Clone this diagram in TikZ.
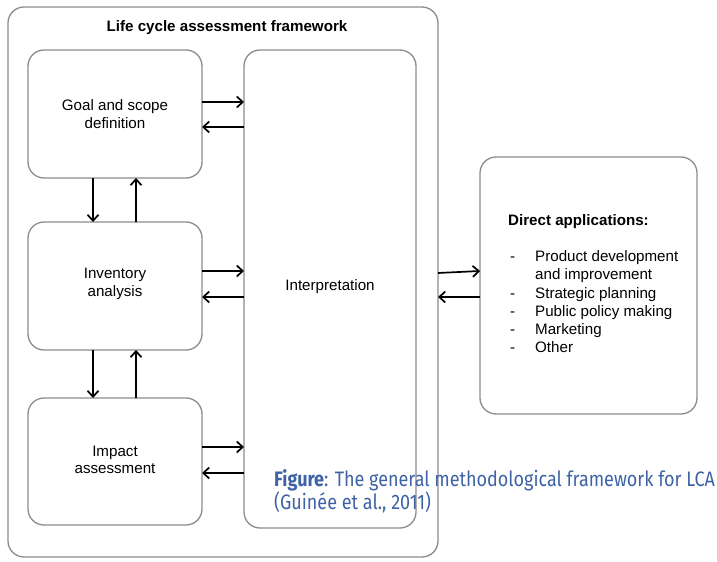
\documentclass[tikz,border=0pt]{standalone}
\usepackage{fontspec}
\setmainfont{Liberation Sans}
\newfontfamily\capfont{Fira Sans}[FakeStretch=0.86]
\usetikzlibrary{arrows.meta}
\definecolor{boxgray}{HTML}{8C8C8C}
\definecolor{capblue}{HTML}{3E62A6}
\tikzset{
  box/.style={draw=boxgray, line width=1.3bp, rounded corners=16bp},
  lbl/.style={font=\fontsize{15.2}{17.5}\selectfont, align=center, inner sep=0},
  arr/.style={line width=1.7bp, -{Straight Barb[length=6bp,width=11bp,line width=1.7bp]}},
}
\begin{document}
\begin{tikzpicture}[x=1bp,y=-1bp]
\useasboundingbox (0,0) rectangle (717,562);
\fill[white] (0,0) rectangle (717,562);
% outer frame
\draw[box] (8,7) rectangle (438,557);
\node[lbl, font=\bfseries\fontsize{15.2}{17.5}\selectfont] (title) at (227,28) {Life cycle assessment framework};
% boxes
\draw[box] (28,50) rectangle (202,178);
\node[lbl] (goal) at (115,114) {Goal and scope\\definition};
\draw[box] (28,222) rectangle (202,350);
\node[lbl] (inv) at (115,284) {Inventory\\analysis};
\draw[box] (28,398) rectangle (202,525);
\node[lbl] (imp) at (115,460) {Impact\\assessment};
\draw[box] (244,50) rectangle (416,528);
\node[lbl] (interp) at (330,287) {Interpretation};
\draw[box] (480,157) rectangle (697,414);
% coordinates for connectors
\coordinate (gR) at (202,0); \coordinate (iL) at (244,0);
\coordinate (fR) at (438,0); \coordinate (dL) at (480,0);
% horizontal arrows
\draw[arr] (gR |- 0,102) -- (iL |- 0,102);
\draw[arr] (iL |- 0,127) -- (gR |- 0,127);
\draw[arr] (gR |- 0,271) -- (iL |- 0,271);
\draw[arr] (iL |- 0,297) -- (gR |- 0,297);
\draw[arr] (gR |- 0,447) -- (iL |- 0,447);
\draw[arr] (iL |- 0,473) -- (gR |- 0,473);
\draw[arr] (fR |- 0,273) -- (dL |- 0,271);
\draw[arr] (dL |- 0,297) -- (fR |- 0,297);
% vertical arrows
\draw[arr] (93,178) -- (93,222);
\draw[arr] (136,222) -- (136,178);
\draw[arr] (93,350) -- (93,398);
\draw[arr] (136,398) -- (136,350);
% direct applications text
\node[lbl, anchor=west, font=\bfseries\fontsize{15.2}{17.5}\selectfont] (dahead) at (508,222) {Direct applications:};
\begin{scope}[every node/.style={lbl, anchor=west, text height=10.5bp, text depth=3bp}]
\node (d1) at (510,258) {-};
\node (t1) at (535,258) {Product development};
\node (t1b) at (535,276) {and improvement};
\node (d2) at (510,295) {-};
\node (t2) at (535,295) {Strategic planning};
\node (d3) at (510,313) {-};
\node (t3) at (535,313) {Public policy making};
\node (d4) at (510,331) {-};
\node (t4) at (535,331) {Marketing};
\node (d5) at (510,349) {-};
\node (t5) at (535,349) {Other};
\end{scope}
% caption
\node[anchor=west, inner sep=0, text=capblue, align=left, font=\capfont\fontsize{21}{23.5}\selectfont] (cap) at (274,491)
  {\textbf{Figure}: The general methodological framework for LCA\\(Guinée et al., 2011)};
\end{tikzpicture}
\end{document}
